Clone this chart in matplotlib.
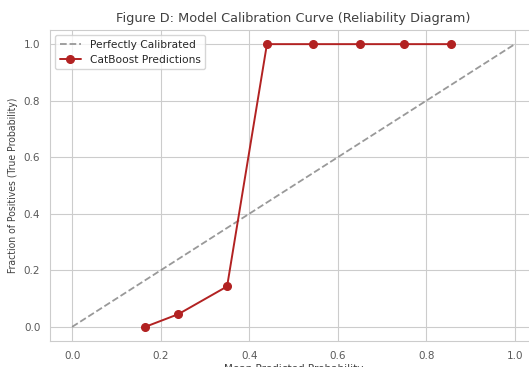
import numpy as np
import matplotlib
matplotlib.use("Agg")
import matplotlib.pyplot as plt
import seaborn as sns

# calibration bins
mean_pred = [0.165, 0.24, 0.35, 0.44, 0.545, 0.65, 0.75, 0.855]
frac_pos = [0.0, 0.045, 0.143, 1.0, 1.0, 1.0, 1.0, 1.0]
diag = [0.0, 1.0]

sns.set_style("whitegrid")
plt.rcParams['font.family'] = ['DejaVu Sans']

fig = plt.figure(figsize=(5.29, 3.67), dpi=100)
# axes runs a little past the right edge, as in the cropped original
ax = fig.add_axes([50 / 529, 26 / 367, 487 / 529, 311 / 367])

ax.plot(diag, diag, linestyle='--', color='gray', alpha=0.8, lw=1.3, label='Perfectly Calibrated')
ax.plot(mean_pred, frac_pos, marker='o', color='firebrick', lw=1.4, ms=5.5, label='CatBoost Predictions')

ax.set_xlim(-0.05, 1.05)
ax.set_ylim(-0.05, 1.05)
ax.set_xticks(np.arange(0, 1.01, 0.2))
ax.set_yticks(np.arange(0, 1.01, 0.2))
ax.tick_params(labelsize=7.5, colors='.35')
for s in ax.spines.values():
    s.set_color('.8')

ax.set_title('Figure D: Model Calibration Curve (Reliability Diagram)', fontsize=9.3, color='.25', pad=6)
ax.set_xlabel('Mean Predicted Probability', fontsize=7.5, color='.25', labelpad=2)
ax.set_ylabel('Fraction of Positives (True Probability)', fontsize=7.5, color='.25', fontstretch='condensed')
ax.legend(loc='upper left', fontsize=7.7, frameon=True)

fig.savefig('out.png', dpi=100)
